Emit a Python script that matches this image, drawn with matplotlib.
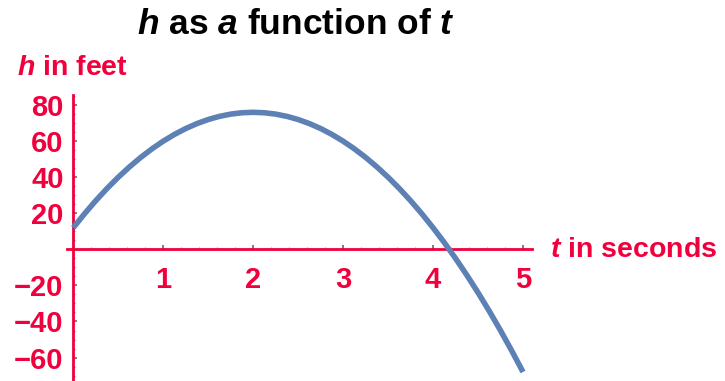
#!/usr/bin/env python3
"""Height of a thrown object versus time, drawn with axes crossing at the origin."""

import matplotlib

matplotlib.use("Agg")
import matplotlib.pyplot as plt
from matplotlib.ticker import FixedLocator, MultipleLocator

# values
t_seconds = [0, 0.125, 0.25, 0.375, 0.5, 0.625, 0.75, 0.875, 1, 1.125, 1.25, 1.375,
             1.5, 1.625, 1.75, 1.875, 2, 2.125, 2.25, 2.375, 2.5, 2.625, 2.75, 2.875,
             3, 3.125, 3.25, 3.375, 3.5, 3.625, 3.75, 3.875, 4, 4.125, 4.25, 4.375,
             4.5, 4.625, 4.75, 4.875, 5]
h_feet = [12, 19.75, 27, 33.75, 40, 45.75, 51, 55.75, 60, 63.75, 67, 69.75,
          72, 73.75, 75, 75.75, 76, 75.75, 75, 73.75, 72, 69.75, 67, 63.75,
          60, 55.75, 51, 45.75, 40, 33.75, 27, 19.75, 12, 3.75, -5, -14.25,
          -24, -34.25, -45, -56.25, -68]
x_ticks = [1, 2, 3, 4, 5]
y_ticks = [-60, -40, -20, 20, 40, 60, 80]

RED = "#f0003c"
BLUE = "#5e81b5"
FONT = "Liberation Sans"

plt.rcParams["font.family"] = FONT
plt.rcParams["mathtext.fontset"] = "custom"
plt.rcParams["mathtext.rm"] = f"{FONT}:bold"
plt.rcParams["mathtext.it"] = f"{FONT}:italic:bold"
plt.rcParams["mathtext.bf"] = f"{FONT}:bold"

fig = plt.figure(figsize=(7.25, 3.81), dpi=100)
ax = fig.add_axes([67 / 725, 0.0, 465 / 725, (381 - 95) / 381])

ax.plot(t_seconds, h_feet, color=BLUE, linewidth=4.0, solid_capstyle="butt",
        solid_joinstyle="round", zorder=3)

ax.set_xlim(-0.07, 5.1)
ax.set_ylim(-73, 85.6)

for side in ("top", "right"):
    ax.spines[side].set_visible(False)
for side in ("left", "bottom"):
    ax.spines[side].set_position(("data", 0))
    ax.spines[side].set_color(RED)
    ax.spines[side].set_linewidth(2.0)
    ax.spines[side].set_zorder(2)

ax.xaxis.set_major_locator(FixedLocator(x_ticks))
ax.yaxis.set_major_locator(FixedLocator(y_ticks))
ax.xaxis.set_minor_locator(MultipleLocator(0.2))
ax.yaxis.set_minor_locator(MultipleLocator(5))
ax.set_xticklabels([str(v) for v in x_ticks])
ax.set_yticklabels([str(v).replace("-", "\u2212") for v in y_ticks])

ax.tick_params(which="major", direction="in", length=3, width=1.2, color="#666666")
ax.tick_params(which="minor", direction="in", length=1.5, width=0.8, color="#999999")
ax.tick_params(axis="x", which="major", pad=12)
ax.tick_params(axis="y", which="major", pad=7)
for lab in ax.get_xticklabels() + ax.get_yticklabels():
    lab.set_color(RED)
    lab.set_fontweight("bold")
    lab.set_fontsize(21)

fig.text(296 / 725, 1 - 24 / 381, "$h$ as $a$ function of $t$", ha="center", va="center",
         fontsize=25.5, fontweight="bold", color="black")
fig.text(17 / 725, 1 - 68 / 381, "$h$ in feet", ha="left", va="center",
         fontsize=20.5, fontweight="bold", color=RED)
fig.text(550 / 725, 1 - 250 / 381, "$t$ in seconds", ha="left", va="center",
         fontsize=20.5, fontweight="bold", color=RED)

fig.savefig("out.png", dpi=100)
